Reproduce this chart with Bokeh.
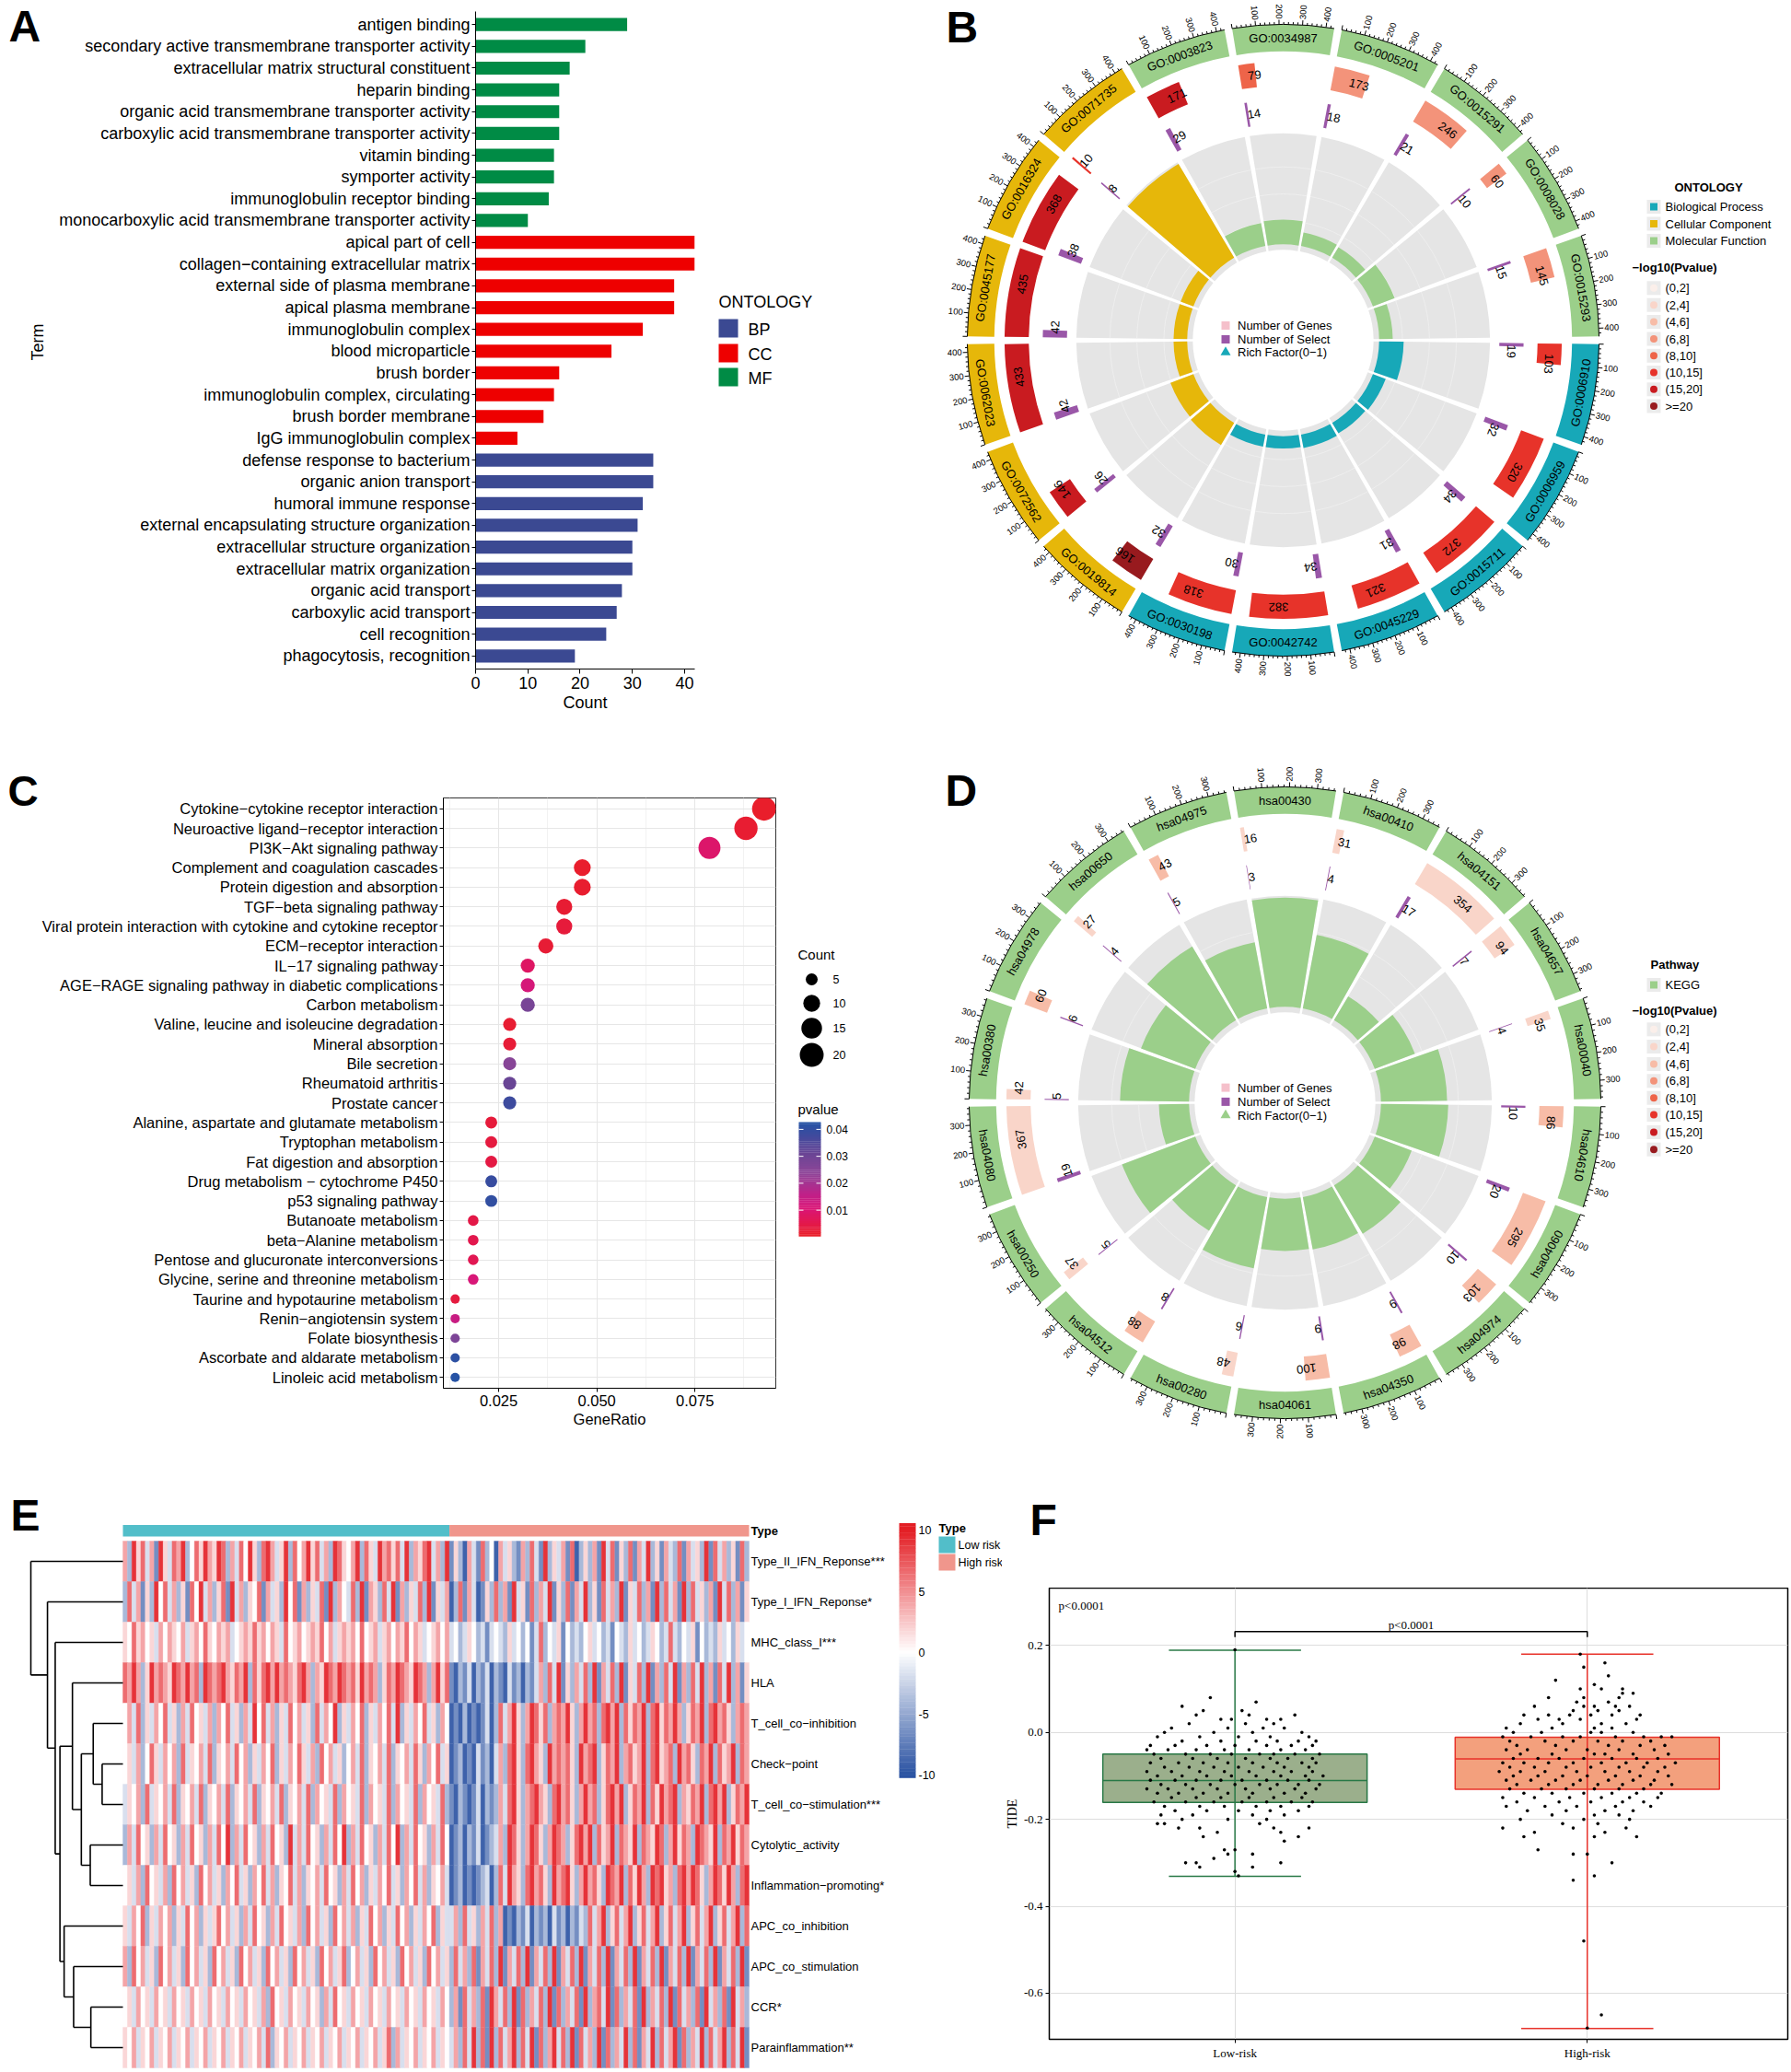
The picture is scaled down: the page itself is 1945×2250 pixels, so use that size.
import math
from bokeh.plotting import figure
from bokeh.models import (Range1d, FactorRange, ColumnDataSource, LinearColorMapper,
                          FixedTicker, NumeralTickFormatter)
from bokeh.layouts import row, column
from bokeh.transform import transform
from bokeh.embed import file_html
from bokeh.resources import INLINE
from bokeh.core.properties import value

SANS = "Liberation Sans"
SERIF = "Liberation Serif"

# ============================ DATA ============================
# ---- Panel A : GO bar chart ----
A_terms = [
    "antigen binding",
    "secondary active transmembrane transporter activity",
    "extracellular matrix structural constituent",
    "heparin binding",
    "organic acid transmembrane transporter activity",
    "carboxylic acid transmembrane transporter activity",
    "vitamin binding",
    "symporter activity",
    "immunoglobulin receptor binding",
    "monocarboxylic acid transmembrane transporter activity",
    "apical part of cell",
    "collagen\u2212containing extracellular matrix",
    "external side of plasma membrane",
    "apical plasma membrane",
    "immunoglobulin complex",
    "blood microparticle",
    "brush border",
    "immunoglobulin complex, circulating",
    "brush border membrane",
    "IgG immunoglobulin complex",
    "defense response to bacterium",
    "organic anion transport",
    "humoral immune response",
    "external encapsulating structure organization",
    "extracellular structure organization",
    "extracellular matrix organization",
    "organic acid transport",
    "carboxylic acid transport",
    "cell recognition",
    "phagocytosis, recognition",
]
A_counts = [29, 21, 18, 16, 16, 16, 15, 15, 14, 10,
            42, 42, 38, 38, 32, 26, 16, 15, 13, 8,
            34, 34, 32, 31, 30, 30, 28, 27, 25, 19]
A_onto = ["MF"] * 10 + ["CC"] * 10 + ["BP"] * 10
A_legend = ["BP", "CC", "MF"]
A_colors = {"BP": "#3B4992", "CC": "#EE0000", "MF": "#008B45"}

# ---- Panel B : GO circle (sectors clockwise from 3 o'clock) ----
B_ids = ["GO:0006910", "GO:0006959", "GO:0015711", "GO:0045229", "GO:0042742", "GO:0030198",
         "GO:0019814", "GO:0072562", "GO:0062023", "GO:0045177", "GO:0016324", "GO:0071735",
         "GO:0003823", "GO:0034987", "GO:0005201", "GO:0015291", "GO:0008028", "GO:0015293"]
B_onto = ["BP"] * 6 + ["CC"] * 6 + ["MF"] * 6
B_genes = [103, 320, 372, 321, 382, 318, 166, 146, 433, 435, 368, 10, 171, 79, 173, 246, 60, 145]
B_select = [19, 32, 34, 31, 34, 30, 32, 26, 42, 42, 38, 8, 29, 14, 18, 21, 10, 15]
B_rich = [0.18, 0.10, 0.09, 0.10, 0.09, 0.09, 0.19, 0.18, 0.10, 0.10, 0.10, 0.80,
          0.17, 0.18, 0.10, 0.09, 0.17, 0.10]
B_pbin = [5, 5, 5, 5, 5, 5, 7, 6, 6, 6, 6, 5, 6, 4, 3, 3, 3, 3]
B_onto_names = ["Biological Process", "Cellular Component", "Molecular Function"]

# ---- Panel C : KEGG dot plot ----
C_paths = [
    "Cytokine\u2212cytokine receptor interaction",
    "Neuroactive ligand\u2212receptor interaction",
    "PI3K\u2212Akt signaling pathway",
    "Complement and coagulation cascades",
    "Protein digestion and absorption",
    "TGF\u2212beta signaling pathway",
    "Viral protein interaction with cytokine and cytokine receptor",
    "ECM\u2212receptor interaction",
    "IL\u221217 signaling pathway",
    "AGE\u2212RAGE signaling pathway in diabetic complications",
    "Carbon metabolism",
    "Valine, leucine and isoleucine degradation",
    "Mineral absorption",
    "Bile secretion",
    "Rheumatoid arthritis",
    "Prostate cancer",
    "Alanine, aspartate and glutamate metabolism",
    "Tryptophan metabolism",
    "Fat digestion and absorption",
    "Drug metabolism \u2212 cytochrome P450",
    "p53 signaling pathway",
    "Butanoate metabolism",
    "beta\u2212Alanine metabolism",
    "Pentose and glucuronate interconversions",
    "Glycine, serine and threonine metabolism",
    "Taurine and hypotaurine metabolism",
    "Renin\u2212angiotensin system",
    "Folate biosynthesis",
    "Ascorbate and aldarate metabolism",
    "Linoleic acid metabolism",
]
C_ratio = [0.0926, 0.0880, 0.0787, 0.0463, 0.0463, 0.0417, 0.0417, 0.0370, 0.0324, 0.0324,
           0.0324, 0.0278, 0.0278, 0.0278, 0.0278, 0.0278, 0.0231, 0.0231, 0.0231, 0.0231,
           0.0231, 0.0185, 0.0185, 0.0185, 0.0185, 0.0139, 0.0139, 0.0139, 0.0139, 0.0139]
C_count = [20, 19, 17, 10, 10, 9, 9, 8, 7, 7, 7, 6, 6, 6, 6, 6, 5, 5, 5, 5,
           5, 4, 4, 4, 4, 3, 3, 3, 3, 3]
C_pvalue = [0.0010, 0.0018, 0.0090, 0.0012, 0.0015, 0.0020, 0.0030, 0.0022, 0.0080, 0.0115,
            0.0280, 0.0018, 0.0025, 0.0250, 0.0310, 0.0380, 0.0030, 0.0035, 0.0040, 0.0390,
            0.0400, 0.0045, 0.0052, 0.0060, 0.0110, 0.0035, 0.0140, 0.0270, 0.0410, 0.0420]
C_size_legend = [5, 10, 15, 20]
C_p_ticks = [0.01, 0.02, 0.03, 0.04]

# ---- Panel D : KEGG circle ----
D_ids = ["hsa04610", "hsa04060", "hsa04974", "hsa04350", "hsa04061", "hsa00280",
         "hsa04512", "hsa00250", "hsa04080", "hsa00380", "hsa04978", "hsa00650",
         "hsa04975", "hsa00430", "hsa00410", "hsa04151", "hsa04657", "hsa00040"]
D_genes = [86, 295, 103, 98, 100, 48, 88, 37, 367, 42, 60, 27, 43, 16, 31, 354, 94, 35]
D_select = [10, 20, 10, 9, 9, 6, 8, 5, 19, 5, 6, 4, 5, 3, 4, 17, 7, 4]
D_rich = [0.116, 0.068, 0.097, 0.092, 0.090, 0.125, 0.091, 0.135, 0.052, 0.119,
          0.100, 0.148, 0.116, 0.188, 0.129, 0.048, 0.074, 0.114]
D_pbin = [2, 2, 2, 2, 2, 1, 2, 1, 1, 1, 2, 1, 2, 1, 1, 1, 1, 1]

P_bins = ["(0,2]", "(2,4]", "(4,6]", "(6,8]", "(8,10]", "(10,15]", "(15,20]", ">=20"]

# ---- Panel E : immune heatmap ----
E_rows = ["Type_II_IFN_Reponse***", "Type_I_IFN_Reponse*", "MHC_class_I***", "HLA",
          "T_cell_co\u2212inhibition", "Check\u2212point", "T_cell_co\u2212stimulation***",
          "Cytolytic_activity", "Inflammation\u2212promoting*", "APC_co_inhibition",
          "APC_co_stimulation", "CCR*", "Parainflammation**"]
E_n_low = 73   # number of low-risk columns (rest high-risk)
# level codes 0..8 -> values (deep blue .. white .. deep red)
E_levels = [-9, -6.5, -4, -1.8, 0, 1.8, 4, 6.5, 9]
E_cells = [
    "6285736185 3768247586 5872637485 2786358274 6857362875 4682753867 5738265783 6281520631 7240635216 2731825361 7025261837 1527163825 1632716352 8173625172",
    "2736152847 3625174836 2571836254 7163528471 6253718264 3728165273 8162537281 5360271630 1527261835 1726381527 1638251736 2815372618 2736182735 2618372615",
    "5475645364 6546356475 4656345657 5646537456 4565746356 5647456356 4657465345 6463423542 3134325342 4137243514 2324534231 4325342354 2373243514 2325342534",
    "7686258676 5876867287 6786576827 5786867657 8626587687 6758676257 6876587626 8571021302 1302103120 2136273815 2637281637 2815372816 2738162738 2617382615",
    "4637253647 3526374536 2647352638 4736253746 3527364825 3647253647 3825364735 2640102010 1302736852 6875726768 5268672786 8275768278 5768625768 2786752676",
    "4536247536 4627354637 2546374625 3647253647 5362746352 4637254637 2546375264 7350120103 1203627852 7865286767 5286782576 8267568278 5672867527 6827568276",
    "3546273546 3725463725 4637254637 2546372546 3726453726 4537264537 2645372645 3721021013 0212637852 6786527867 5268672578 6825768275 8678265768 2786825768",
    "2637452637 4526374526 3748263745 2637452836 3745263748 2637452637 4826374526 3740120213 0123628752 6875268762 5786827568 2765827658 7268576287 6582768576",
    "4536274536 2746352746 3526473526 4736254736 2546374526 3746253647 3526473625 4630120101 2302738652 7867528678 5268675287 6827586287 8562786875 2687586278",
    "5364725364 6253746253 5746352637 4526374536 2746352746 3625374625 3746253647 2533627352 6372601021 3021203120 2132736825 7368257368 2573682573 6825736827",
    "6274635274 6352746352 7463527463 5274635274 6352746357 2463527463 5274635274 6352736271 6372816372 8163728163 7281637281 6372816372 8163728163 7281637281",
    "4536453645 3645364536 4536453645 3627453645 3645263745 3645364536 4536453645 3642617362 7186372817 2637281726 3718267381 7263718263 7281736271 8362718362",
    "5463546354 6354635463 5463546354 6372546354 6354635463 5463546357 2635463546 3543627382 7182736827 3817268372 8173628172 6382716382 7368172638 2736827381",
]
# dendrogram merges: (child a, child b, height); leaves 0..12, merges numbered from 13
E_merges = [(5, 6, 35), (4, 13, 50), (7, 8, 55), (14, 15, 70), (3, 16, 85), (11, 12, 54),
            (10, 18, 83), (9, 19, 99), (17, 20, 106), (2, 21, 114), (1, 22, 127), (0, 23, 155)]
E_bar_ticks = [10, 5, 0, -5, -10]
E_types = ["Low risk", "High risk"]

# ---- Panel F : TIDE boxplot ----
F_groups = ["Low-risk", "High-risk"]
F_q1 = [-0.161, -0.131]
F_median = [-0.111, -0.061]
F_q3 = [-0.050, -0.011]
F_wlow = [-0.331, -0.681]
F_whigh = [0.189, 0.180]
# jittered points: TIDE value (hundredths) -> list of horizontal jitter offsets (hundredths)
F_low_pts = {
    19: [0], 8: [-7], 7: [6], 6: [-15], 5: [-9, 2], 4: [-11, 4, 17], 3: [-4, -1, 9, 13],
    2: [-13, 3, 11], 1: [-18, -2, 8, 14], 0: [-20, -6, 5, 19], -1: [-22, -10, 1, 10, 21],
    -2: [-15, -4, 6, 12, 18, 23], -3: [-24, -17, -8, 0, 9, 16, 22],
    -4: [-25, -19, -11, -3, 4, 13, 20], -5: [-23, -14, -7, -1, 7, 11, 17, 24],
    -6: [-21, -12, -5, 3, 10, 15, 22], -7: [-24, -16, -9, -2, 5, 12, 19, 23],
    -8: [-20, -13, -6, 1, 8, 14, 21], -9: [-25, -18, -10, -3, 4, 11, 16, 22],
    -10: [-22, -15, -8, -1, 6, 13, 20, 25], -11: [-24, -17, -11, -4, 2, 9, 15, 21],
    -12: [-21, -14, -7, 0, 7, 12, 18, 24], -13: [-25, -19, -12, -5, 3, 10, 17, 23],
    -14: [-22, -16, -9, -2, 5, 14, 20], -15: [-18, -11, -4, 4, 11, 19],
    -16: [-23, -14, -6, 2, 9, 16, 22], -17: [-20, -10, -3, 6, 13, 21],
    -18: [-17, -8, 1, 10, 18], -19: [-21, -12, 5, 14], -20: [-15, -2, 9], -21: [-22, -20, 7],
    -22: [-16, -10, 11, 21], -23: [-5, 13], -24: [-9, 18], -25: [14], -27: [-3, 0],
    -28: [-2, 5], -29: [-6], -30: [-14, -11, 13], -31: [-10, 5], -32: [0], -33: [1],
}
F_high_pts = {
    18: [-2], 16: [5], 15: [-1], 13: [6], 12: [-9], 11: [2], 10: [-2, 4, 10], 9: [10, 13],
    8: [-11, -1, 9], 7: [-3, 6], 6: [-15, -1, 2, 8, 12], 5: [-4, 3, 9],
    4: [-18, -11, -5, 1, 7, 15], 3: [-14, -8, -2, 14], 2: [-19, -7, 4, 11], 1: [-23, -10, 2, 7],
    0: [-21, -13, 1, 4, 13], -1: [-24, -16, -7, -2, 8, 16, 21, 24], -2: [-22, -12, -4, 3, 10, 18],
    -3: [-20, -9, 6, 15, 22], -4: [-23, -17, -6, 0, 9, 19], -5: [-19, -10, 2, 5, 13, 23],
    -6: [-21, -14, -8, -1, 7, 14, 20], -7: [-24, -18, -11, -4, 4, 11, 17, 25],
    -8: [-22, -15, -6, 1, 9, 16, 22], -9: [-25, -19, -12, -3, 5, 12, 20],
    -10: [-21, -14, -7, 0, 8, 15, 23], -11: [-23, -16, -9, -2, 6, 13, 19],
    -12: [-20, -11, -4, 3, 10, 18, 24], -13: [-22, -13, -6, 2, 9, 16],
    -14: [-18, -10, -1, 7, 14, 21], -15: [-24, -15, -5, 4, 12, 20], -16: [-20, -8, 1, 10, 16],
    -17: [-23, -12, -3, 8, 18], -18: [-17, -6, 5, 13], -19: [-10, 2, 9], -20: [-19, -1, 12],
    -21: [-7, 3], -22: [-24, -4, 11], -23: [-15, 5], -24: [-18, 2, 14], -27: [-14],
    -28: [-4, 0], -30: [7], -33: [2], -34: [-4], -48: [-1], -65: [4], -68: [0],
}
F_yticks = [-0.6, -0.4, -0.2, 0.0, 0.2]

# ============================ STYLE HELPERS ============================
ONTO_COL = {"BP": "#17A8B8", "CC": "#E6B70A", "MF": "#9BCF8A"}
PCOL = ["#FBEFEA", "#F9D5C9", "#F7BCA7", "#F3937A", "#EE6449", "#E7332A", "#C91B20", "#981A1E"]
PURPLE = "#9A57A8"


def hex2rgb(h):
    h = h.lstrip("#")
    return tuple(int(h[i:i + 2], 16) for i in (0, 2, 4))


def interp_palette(stops, n):
    out = []
    for i in range(n):
        t = i / (n - 1)
        for j in range(len(stops) - 1):
            t0, c0 = stops[j]
            t1, c1 = stops[j + 1]
            if t0 <= t <= t1:
                f = 0 if t1 == t0 else (t - t0) / (t1 - t0)
                a, b = hex2rgb(c0), hex2rgb(c1)
                out.append("#%02x%02x%02x" % tuple(int(round(a[k] + (b[k] - a[k]) * f)) for k in range(3)))
                break
    return out


def noalign(p):
    if "frame_align" in p.properties():
        p.frame_align = False
    return p


def canvas(x0, x1, y0, y1, flip=True):
    yr = Range1d(y1, y0) if flip else Range1d(-y1, -y0)
    p = figure(width=x1 - x0, height=y1 - y0, x_range=Range1d(x0, x1), y_range=yr,
               output_backend="svg", toolbar_location=None,
               x_axis_location=None, y_axis_location=None, min_border=0)
    p.grid.visible = False
    p.outline_line_color = None
    p.background_fill_color = "white"
    p.border_fill_color = "white"
    return noalign(p)


def style_axis(ax, size, font=SANS, tick_out=5):
    ax.major_label_text_font = font
    ax.major_label_text_font_size = f"{size}px"
    ax.major_label_text_color = "black"
    ax.axis_label_text_font = font
    ax.axis_label_text_font_size = f"{size}px"
    ax.axis_label_text_font_style = "normal"
    ax.axis_label_text_color = "black"
    ax.axis_line_color = "black"
    ax.major_tick_line_color = "black"
    ax.major_tick_in = 0
    ax.major_tick_out = tick_out
    ax.minor_tick_in = 0
    ax.minor_tick_out = 0
    ax.major_label_standoff = 3


def txt(p, xs, ys, texts, size, align="left", baseline="middle", bold=False, font=SANS,
        color="black", angle=None):
    kw = dict(x=xs, y=ys, text=texts, text_font=value(font), text_font_size=value(f"{size}px"),
              text_align=align, text_baseline=baseline, text_color=color)
    if bold:
        kw["text_font_style"] = "bold"
    if angle is not None:
        kw["angle"] = angle
    p.text(**kw)


def big_letter(p, ch, x, y_mid, size=48):
    txt(p, [x], [y_mid], [ch], size, baseline="middle", bold=True)

# ============================ PANEL A ============================
stripA = canvas(0, 54, 0, 818, flip=False)
big_letter(stripA, "A", 9, -27.5)
txt(stripA, [40], [-371], ["Term"], 18, align="center", angle=[math.pi / 2])

srcA = ColumnDataSource(dict(term=A_terms, count=A_counts, color=[A_colors[o] for o in A_onto]))
pA = figure(width=716, height=818, x_range=Range1d(0, 41.94),
            y_range=FactorRange(factors=A_terms[::-1], range_padding=0.1,
                                range_padding_units="absolute"),
            output_backend="svg", toolbar_location=None,
            min_border_left=462, min_border_right=16, min_border_top=12, min_border_bottom=92)
noalign(pA)
pA.hbar(y="term", left=0, right="count", height=0.6, fill_color="color", line_color=None, source=srcA)
pA.grid.visible = False
pA.outline_line_color = None
pA.xaxis.ticker = FixedTicker(ticks=[0, 10, 20, 30, 40])
pA.xaxis.axis_label = "Count"
style_axis(pA.xaxis[0], 18)
style_axis(pA.yaxis[0], 18, tick_out=4)
pA.yaxis.major_label_standoff = 2
pA.xaxis.axis_label_standoff = 2

pAL = canvas(770, 1020, 0, 818)
pAL.rect(x=[790.5] * 3, y=[356, 383, 409], width=21, height=20,
         fill_color=[A_colors[k] for k in A_legend], line_color=None)
txt(pAL, [780], [327], ["ONTOLOGY"], 18)
txt(pAL, [812] * 3, [357, 384, 410], A_legend, 18)

# ============================ CIRCLE PANELS (B, D) ============================
GAP = 1.4
SPAN = 20.0 - GAP
S = 1.012
R_BAND = (310 * S, 339 * S)
R_GENE = (273 * S, 299 * S)
R_SEL = (232 * S, 258 * S)
R_BG = (97 * S, 222 * S)
R_RICH0, R_RICH1 = 103 * S, 220 * S
R_TICKLAB = 345 * S
R_GRID = (128 * S, 157 * S, 186 * S)


def sec_ang(k, v, vmax):
    return math.radians(-20.0 * k - GAP / 2.0 - (v / vmax) * SPAN)


def draw_circle(p, ids, colors, genes, sel, rich, pbin, vmax, tmax, flip_skip):
    ks = list(range(len(ids)))
    a0 = [sec_ang(k, 0, vmax) for k in ks]
    a1 = [sec_ang(k, vmax, vmax) for k in ks]
    # outer sector band + axis
    p.annular_wedge(x=0, y=0, inner_radius=R_BAND[0], outer_radius=R_BAND[1],
                    start_angle=a1, end_angle=a0, fill_color=colors, line_color=None)
    p.arc(x=0, y=0, radius=R_BAND[1], start_angle=a1, end_angle=a0, line_color="black", line_width=1)
    x0s, y0s, x1s, y1s = [], [], [], []
    for k in ks:
        for v in range(0, int(vmax) + 1, 20):
            t = sec_ang(k, v, vmax)
            ln = 5 if v % 100 == 0 else 2.5
            x0s.append(R_BAND[1] * math.cos(t)); y0s.append(R_BAND[1] * math.sin(t))
            x1s.append((R_BAND[1] + ln) * math.cos(t)); y1s.append((R_BAND[1] + ln) * math.sin(t))
    p.segment(x0=x0s, y0=y0s, x1=x1s, y1=y1s, line_color="black", line_width=1)
    L = {"x": [], "y": [], "t": [], "a": []}
    Rr = {"x": [], "y": [], "t": [], "a": []}
    for k in ks:
        for v in range(100, tmax + 1, 100):
            t = sec_ang(k, v, vmax)
            d = L if math.cos(t) >= 0 else Rr
            d["x"].append(R_TICKLAB * math.cos(t)); d["y"].append(R_TICKLAB * math.sin(t))
            d["t"].append(str(v)); d["a"].append(t if math.cos(t) >= 0 else t + math.pi)
    txt(p, L["x"], L["y"], L["t"], 9.5, align="left", angle=L["a"])
    txt(p, Rr["x"], Rr["y"], Rr["t"], 9.5, align="right", angle=Rr["a"])
    # sector labels
    cs = [sec_ang(k, vmax / 2.0, vmax) for k in ks]
    rot = []
    for k, c in enumerate(cs):
        if math.sin(c) < -1e-9 and k not in flip_skip:
            rot.append(c + math.pi / 2)
        else:
            rot.append(c - math.pi / 2)
    rm = (R_BAND[0] + R_BAND[1]) / 2.0
    txt(p, [rm * math.cos(c) for c in cs], [rm * math.sin(c) for c in cs], ids, 13,
        align="center", angle=rot)
    # rich factor track
    p.annular_wedge(x=0, y=0, inner_radius=R_BG[0], outer_radius=R_BG[1],
                    start_angle=a1, end_angle=a0, fill_color="#E5E5E5", line_color=None)
    for r in R_GRID:
        p.arc(x=0, y=0, radius=r, start_angle=a1, end_angle=a0, line_color="#F0F0F0", line_width=0.8)
    rmax = max(rich)
    outer = [R_RICH0 + rv / rmax * (R_RICH1 - R_RICH0) for rv in rich]
    p.annular_wedge(x=0, y=0, inner_radius=R_RICH0, outer_radius=outer,
                    start_angle=a1, end_angle=a0, fill_color=colors, line_color=None)
    # gene count track
    ga = [sec_ang(k, genes[k], vmax) for k in ks]
    p.annular_wedge(x=0, y=0, inner_radius=R_GENE[0], outer_radius=R_GENE[1],
                    start_angle=ga, end_angle=a0, fill_color=[PCOL[b] for b in pbin], line_color=None)
    # selected gene track
    sa = [sec_ang(k, sel[k], vmax) for k in ks]
    p.annular_wedge(x=0, y=0, inner_radius=R_SEL[0], outer_radius=R_SEL[1],
                    start_angle=sa, end_angle=a0, fill_color=PURPLE, line_color=None)
    for vals, (r0, r1) in ((genes, R_GENE), (sel, R_SEL)):
        rr = (r0 + r1) / 2.0
        an = [sec_ang(k, vals[k] / 2.0, vmax) for k in ks]
        txt(p, [rr * math.cos(a) for a in an], [rr * math.sin(a) for a in an],
            [str(v) for v in vals], 13, align="left", angle=[a - math.pi / 2 for a in an])


def inner_legend(p, sx, tx, ys, tri_color):
    p.rect(x=[sx, sx], y=ys[:2], width=9, height=9, fill_color=["#F5C0CB", PURPLE], line_color=None)
    p.scatter(x=[sx], y=[ys[2]], marker="triangle", size=11, fill_color=tri_color, line_color=None)
    txt(p, [tx] * 3, ys, ["Number of Genes", "Number of Select", "Rich Factor(0\u22121)"], 13)


def pvalue_legend(p, cx, cy, title_y, item_ys):
    txt(p, [1772 - cx], [cy - title_y], ["\u2212log10(Pvalue)"], 13, bold=True)
    p.rect(x=[1795.5 - cx] * 8, y=[cy - y for y in item_ys], width=15, height=15,
           fill_color="#EBEBEB", line_color=None)
    p.scatter(x=[1795.5 - cx] * 8, y=[cy - y for y in item_ys], size=8, fill_color=PCOL, line_color=None)
    txt(p, [1808 - cx] * 8, [cy - y for y in item_ys], P_bins, 13)


def circle_fig(cx, cy, y0, y1):
    p = figure(width=923, height=y1 - y0, x_range=Range1d(1020 - cx, 1943 - cx),
               y_range=Range1d(cy - y1, cy - y0),
               output_backend="svg", toolbar_location=None, x_axis_location=None,
               y_axis_location=None, min_border=0)
    p.grid.visible = False
    p.outline_line_color = None
    return noalign(p)


# ---- Panel B ----
BX, BY = 1393, 369
pB = circle_fig(BX, BY, 0, 818)
draw_circle(pB, B_ids, [ONTO_COL[o] for o in B_onto], B_genes, B_select, B_rich, B_pbin,
            max(B_genes), 400, flip_skip=set())
inner_legend(pB, -62.5, -49.5, [16, 1, -13], ONTO_COL["BP"])
txt(pB, [1818 - BX], [BY - 203], ["ONTOLOGY"], 13, bold=True)
key_y = [224, 242.5, 261]
pB.rect(x=[1795.5 - BX] * 3, y=[BY - y for y in key_y], width=15, height=15, fill_color="#EBEBEB", line_color=None)
pB.rect(x=[1795.5 - BX] * 3, y=[BY - y for y in key_y], width=8, height=8,
        fill_color=[ONTO_COL[k] for k in ("BP", "CC", "MF")], line_color=None)
txt(pB, [1808 - BX] * 3, [BY - y for y in key_y], B_onto_names, 13)
pvalue_legend(pB, BX, BY, 290, [312.3, 330.7, 349, 367.5, 385.8, 404, 422.3, 440.5])
big_letter(pB, "B", 1027 - BX, BY - 28.7)

# ---- Panel D ----
DX, DY = 1395, 1197
pD = circle_fig(DX, DY, 818, 1618)
draw_circle(pD, D_ids, [ONTO_COL["MF"]] * len(D_ids), D_genes, D_select, D_rich, D_pbin,
            max(D_genes), 300, flip_skip={0})
inner_legend(pD, -64.5, -51.5, [16.4, 1.1, -13.6], ONTO_COL["MF"])
txt(pD, [1792 - DX], [DY - 1047], ["Pathway"], 13, bold=True)
pD.rect(x=[1795.5 - DX], y=[DY - 1069], width=15, height=15, fill_color="#EBEBEB", line_color=None)
pD.rect(x=[1795.5 - DX], y=[DY - 1069], width=8, height=8, fill_color=ONTO_COL["MF"], line_color=None)
txt(pD, [1808 - DX], [DY - 1069], ["KEGG"], 13)
pvalue_legend(pD, DX, DY, 1097, [1117.3, 1136, 1155, 1173.3, 1191.7, 1210, 1229, 1247.7])
big_letter(pD, "D", 1026 - DX, DY - 858)

# ============================ PANEL C ============================
palC = interp_palette([(0.0, "#EA1F26"), (0.12, "#E2174F"), (0.24, "#DA1676"), (0.36, "#C01F88"),
                       (0.55, "#8E4598"), (0.72, "#6A4595"), (0.9, "#3A4B9E"), (1.0, "#2455A6")], 256)
P_LOW, P_HIGH = 0.0003, 0.0427
cmapC = LinearColorMapper(palette=palC, low=P_LOW, high=P_HIGH)


def dot_size(c):
    return 5.8 * math.sqrt(c)


stripC = canvas(0, 42, 818, 1618)
big_letter(stripC, "C", 8, 858, size=46)

srcC = ColumnDataSource(dict(path=C_paths, ratio=C_ratio, p=C_pvalue, size=[dot_size(c) for c in C_count]))
pC = figure(width=816, height=800, x_range=Range1d(0.0109, 0.0956),
            y_range=FactorRange(factors=C_paths[::-1], range_padding=0.05, range_padding_units="absolute"),
            output_backend="svg", toolbar_location=None,
            min_border_left=439, min_border_right=16, min_border_top=48, min_border_bottom=111)
noalign(pC)
pC.xaxis.ticker = FixedTicker(ticks=[0.025, 0.05, 0.075], minor_ticks=[0.0125, 0.0375, 0.0625, 0.0875])
pC.xaxis.formatter = NumeralTickFormatter(format="0.000")
pC.xaxis.axis_label = "GeneRatio"
style_axis(pC.xaxis[0], 16.5, tick_out=4)
style_axis(pC.yaxis[0], 16.5, tick_out=4)
pC.yaxis.major_label_standoff = 2
pC.xaxis.axis_label_standoff = 2
pC.xgrid.grid_line_color = "#E6E6E6"
pC.xgrid.minor_grid_line_color = "#F2F2F2"
pC.ygrid.grid_line_color = "#E6E6E6"
pC.outline_line_color = "#333333"
pC.outline_line_width = 1
pC.scatter(x="ratio", y="path", size="size", fill_color=transform("p", cmapC), line_color=None, source=srcC)

pCL = canvas(858, 1020, 818, 1618)
txt(pCL, [866], [1036], ["Count"], 15)
leg_y = [1063, 1089, 1116, 1145]
pCL.scatter(x=[881] * 4, y=leg_y, size=[dot_size(c) for c in C_size_legend], fill_color="black", line_color=None)
txt(pCL, [904] * 4, leg_y, [str(c) for c in C_size_legend], 12.5)
txt(pCL, [866], [1204], ["pvalue"], 15)
CB_TOP, CB_BOT = 1218, 1342
nsl = 60
vals = [P_HIGH - (P_HIGH - P_LOW) * (i + 0.5) / nsl for i in range(nsl)]
pCL.quad(left=867, right=891, top=[CB_TOP + (CB_BOT - CB_TOP) * i / nsl for i in range(nsl)],
         bottom=[CB_TOP + (CB_BOT - CB_TOP) * (i + 1) / nsl + 0.3 for i in range(nsl)],
         fill_color=[palC[int((v - P_LOW) / (P_HIGH - P_LOW) * 255)] for v in vals], line_color=None)
tick_y = [CB_BOT - (pv - P_LOW) / (P_HIGH - P_LOW) * (CB_BOT - CB_TOP) for pv in C_p_ticks]
pCL.segment(x0=[867] * 4 + [886] * 4, y0=tick_y * 2, x1=[872] * 4 + [891] * 4, y1=tick_y * 2,
            line_color="white", line_width=1)
txt(pCL, [897] * 4, tick_y, ["%.2f" % v for v in C_p_ticks], 12)

# ============================ PANEL E ============================
pE = canvas(0, 1088, 1618, 2248)
heat_pal = interp_palette([(0.0, "#2A52A2"), (0.5, "#FFFFFF"), (1.0, "#E31E24")], 256)
cmapE = LinearColorMapper(palette=heat_pal, low=-10, high=10)
HX0, HX1, HY0, RH = 133, 813, 1673, 44.0
codes = [r.replace(" ", "") for r in E_cells]
ncol = min(len(r) for r in codes)
cw = (HX1 - HX0) / ncol
cl, cr, ct, cb, cv = [], [], [], [], []
for i, r in enumerate(codes):
    for j in range(ncol):
        cl.append(HX0 + j * cw); cr.append(HX0 + (j + 1) * cw)
        ct.append(HY0 + i * RH); cb.append(HY0 + (i + 1) * RH)
        cv.append(E_levels[int(r[j])])
srcE = ColumnDataSource(dict(l=cl, r=cr, t=ct, b=cb, v=cv))
pE.quad(left="l", right="r", top="t", bottom="b", fill_color=transform("v", cmapE),
        line_color=transform("v", cmapE), line_width=0.4, source=srcE)
# annotation bar
pE.quad(left=[HX0, HX0 + E_n_low * cw], right=[HX0 + E_n_low * cw, HX1], top=1655.5, bottom=1668,
        fill_color=["#52BEC9", "#F0968C"], line_color=None)
txt(pE, [815], [1662], ["Type"], 13, bold=True)
txt(pE, [815] * len(E_rows), [HY0 + (i + 0.5) * RH for i in range(len(E_rows))], E_rows, 13)
# dendrogram
node_x = {i: HX0 for i in range(len(E_rows))}
node_y = {i: HY0 + (i + 0.5) * RH for i in range(len(E_rows))}
hmax = max(m[2] for m in E_merges)
sx0, sy0, sx1, sy1 = [], [], [], []
for idx, (a, b, h) in enumerate(E_merges):
    nid = len(E_rows) + idx
    xm = HX0 - h / hmax * 100.0
    for c in (a, b):
        sx0.append(node_x[c]); sy0.append(node_y[c]); sx1.append(xm); sy1.append(node_y[c])
    sx0.append(xm); sy0.append(node_y[a]); sx1.append(xm); sy1.append(node_y[b])
    node_x[nid] = xm
    node_y[nid] = (node_y[a] + node_y[b]) / 2.0
pE.segment(x0=sx0, y0=sy0, x1=sx1, y1=sy1, line_color="black", line_width=1.6)
# colour bar
EB_TOP, EB_BOT = 1653.5, 1930
nsl = 80
vtop, vbot = 10.6, -10.2
pE.quad(left=976, right=994, top=[EB_TOP + (EB_BOT - EB_TOP) * i / nsl for i in range(nsl)],
        bottom=[EB_TOP + (EB_BOT - EB_TOP) * (i + 1) / nsl + 0.3 for i in range(nsl)],
        fill_color=[heat_pal[max(0, min(255, int((vtop - (vtop - vbot) * (i + 0.5) / nsl + 10) / 20 * 255)))]
                    for i in range(nsl)], line_color=None)
txt(pE, [997] * 5, [1794 - v * 13.3 for v in E_bar_ticks], [str(v) for v in E_bar_ticks], 12.5)
# type legend
txt(pE, [1019], [1659], ["Type"], 13, bold=True)
pE.quad(left=1019, right=1037, top=[1668, 1687], bottom=[1686, 1705],
        fill_color=["#52BEC9", "#F0968C"], line_color=None)
txt(pE, [1040] * 2, [1677, 1696.5], E_types, 12.5)
big_letter(pE, "E", 11, 1645)

# ============================ PANEL F ============================
topF = canvas(1088, 1943, 1618, 1724)
big_letter(topF, "F", 1118, 1649.5)

pF = figure(width=855, height=524, x_range=Range1d(0.473, 2.569), y_range=Range1d(-0.706, 0.332),
            output_backend="svg", toolbar_location=None,
            min_border_left=46, min_border_right=2, min_border_top=0, min_border_bottom=34)
noalign(pF)
pF.xaxis.ticker = FixedTicker(ticks=[1, 2])
pF.xaxis.major_label_overrides = {1: F_groups[0], 2: F_groups[1]}
pF.yaxis.ticker = FixedTicker(ticks=F_yticks)
pF.yaxis.formatter = NumeralTickFormatter(format="0.0")
style_axis(pF.xaxis[0], 13, font=SERIF, tick_out=4)
style_axis(pF.yaxis[0], 13, font=SERIF, tick_out=4)
pF.yaxis.axis_label = "TIDE"
pF.yaxis.axis_label_text_font_size = "14px"
pF.yaxis.axis_label_standoff = 2
pF.grid.grid_line_color = "#DDDDDD"
pF.outline_line_color = "black"
pF.outline_line_width = 1.5
box_fill = ["#9BAF8C", "#F3A07D"]
box_line = ["#287846", "#E8322A"]
for gi in range(2):
    xc = gi + 1
    pF.quad(left=[xc - 0.375], right=[xc + 0.375], bottom=[F_q1[gi]], top=[F_q3[gi]],
            fill_color=box_fill[gi], line_color=box_line[gi], line_width=1.5)
    pF.segment(x0=[xc, xc - 0.1875, xc - 0.1875, xc - 0.375],
               y0=[F_wlow[gi], F_wlow[gi], F_whigh[gi], F_median[gi]],
               x1=[xc, xc + 0.1875, xc + 0.1875, xc + 0.375],
               y1=[F_whigh[gi], F_wlow[gi], F_whigh[gi], F_median[gi]],
               line_color=box_line[gi], line_width=1.5)
for gi, pts in enumerate((F_low_pts, F_high_pts)):
    xs, ys = [], []
    for yv, dxs in pts.items():
        for dx in dxs:
            xs.append(gi + 1 + dx / 100.0)
            ys.append(yv / 100.0)
    pF.scatter(x=xs, y=ys, size=3.6, fill_color="black", line_color=None)
pF.line(x=[1, 1, 2, 2], y=[0.219, 0.232, 0.232, 0.219], line_color="black", line_width=1.5)
txt(pF, [1.5], [0.247], ["p<0.0001"], 13, align="center", font=SERIF)
txt(pF, [0.4994], [0.292], ["p<0.0001"], 13, font=SERIF)

# ============================ LAYOUT ============================
layout = column(row(stripA, pA, pAL, pB),
                row(stripC, pC, pCL, pD),
                row(pE, column(topF, pF)))
open("out.html", "w").write(file_html(layout, INLINE))
